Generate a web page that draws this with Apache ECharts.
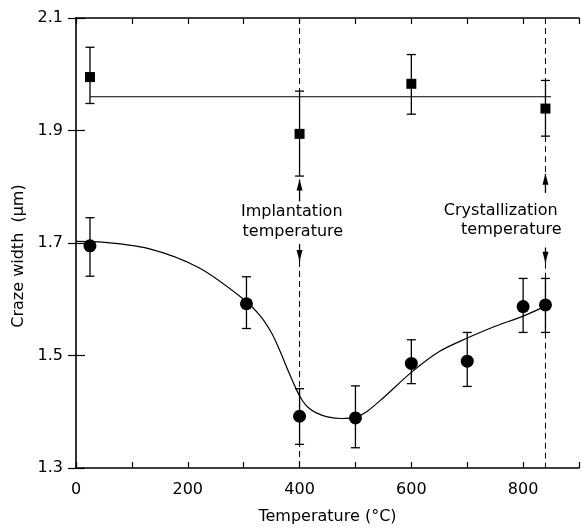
<!DOCTYPE html>
<html>
<head>
<meta charset="utf-8">
<script src="https://cdn.jsdelivr.net/npm/echarts@6/dist/echarts.min.js"></script>
<style>
  html, body { margin: 0; padding: 0; background: #fff; }
  #chart { width: 582px; height: 532px; }
</style>
</head>
<body>
<div id="chart"></div>
<script>
// Craze width versus temperature: implanted samples (squares) and unimplanted (circles)

// Squares: measured craze width with error limits
var sqTemp = [25, 400, 600, 840];
var sqWidth = [1.995, 1.894, 1.983, 1.939];
var sqLow = [1.948, 1.819, 1.929, 1.890];
var sqHigh = [2.048, 1.970, 2.035, 1.989];

// Mean level drawn through the squares
var sqMeanTemp = [25, 850];
var sqMeanWidth = [1.96, 1.96];

// Circles: measured craze width with error limits
var ciTemp = [25, 305, 400, 500, 600, 700, 800, 840];
var ciWidth = [1.695, 1.592, 1.392, 1.389, 1.486, 1.490, 1.587, 1.590];
var ciLow = [1.641, 1.548, 1.342, 1.336, 1.450, 1.445, 1.541, 1.541];
var ciHigh = [1.745, 1.640, 1.441, 1.446, 1.528, 1.541, 1.637, 1.637];

// Fitted curve through the circles
var fitTemp = [0, 40, 130, 220, 300, 330, 350, 365, 380, 395, 405, 415, 430, 450, 475, 500, 520, 550, 600, 650, 700, 750, 800, 845];
var fitWidth = [1.703, 1.702, 1.690, 1.656, 1.600, 1.570, 1.540, 1.508, 1.472, 1.438, 1.420, 1.408, 1.398, 1.391, 1.388, 1.390, 1.400, 1.425, 1.470, 1.507, 1.531, 1.552, 1.570, 1.590];

// Reference temperatures and the dashed segments drawn at them
var refTemp = [400, 840];
var dashFrom = [[2.1, 1.668], [2.1, 1.890, 1.665]];
var dashTo = [[1.970, 1.3], [1.989, 1.823, 1.3]];

// Arrows along the reference lines: [temperature, tail, tip]
var arrowTemp = [400, 400, 840, 840];
var arrowTail = [1.774, 1.698, 1.789, 1.692];
var arrowTip = [1.813, 1.668, 1.823, 1.665];

// Annotation text
var noteText = ['Implantation', 'temperature', 'Crystallization', 'temperature'];
var noteTemp = [386, 388, 760, 779];
var noteWidth = [1.755, 1.720, 1.757, 1.723];

// Axis tick labels
var xTickLabels = [0, 200, 400, 600, 800];
var yTickLabels = ['1.3', '1.5', '1.7', '1.9', '2.1'];

var FONT = 'DejaVu Sans';
var INK = '#000';

function zip(a, b) { return a.map(function (v, i) { return [v, b[i]]; }); }

var dashSeries = [];
refTemp.forEach(function (t, k) {
  dashFrom[k].forEach(function (y0, j) {
    dashSeries.push({
      type: 'line', xAxisIndex: 0, yAxisIndex: 0,
      data: [[t, y0], [t, dashTo[k][j]]],
      symbol: 'none', silent: true, z: 1,
      lineStyle: { color: INK, width: 1, type: [6, 4] }
    });
  });
});

function errorBars(temps, lows, highs) {
  return {
    type: 'custom', xAxisIndex: 0, yAxisIndex: 0, z: 3, silent: true,
    data: temps.map(function (t, i) { return [t, lows[i], highs[i]]; }),
    renderItem: function (params, api) {
      var lo = api.coord([api.value(0), api.value(1)]);
      var hi = api.coord([api.value(0), api.value(2)]);
      var cap = 4.5;
      var st = { stroke: INK, lineWidth: 1.3 };
      return {
        type: 'group',
        children: [
          { type: 'line', shape: { x1: lo[0], y1: lo[1], x2: hi[0], y2: hi[1] }, style: st },
          { type: 'line', shape: { x1: lo[0] - cap, y1: lo[1], x2: lo[0] + cap, y2: lo[1] }, style: st },
          { type: 'line', shape: { x1: hi[0] - cap, y1: hi[1], x2: hi[0] + cap, y2: hi[1] }, style: st }
        ]
      };
    }
  };
}

var arrowSeries = {
  type: 'custom', xAxisIndex: 0, yAxisIndex: 0, z: 3, silent: true,
  data: arrowTemp.map(function (t, i) { return [t, arrowTail[i], arrowTip[i]]; }),
  renderItem: function (params, api) {
    var a = api.coord([api.value(0), api.value(1)]);
    var b = api.coord([api.value(0), api.value(2)]);
    var dir = b[1] < a[1] ? 1 : -1; // 1: pointing up
    var head = 11, half = 3;
    return {
      type: 'group',
      children: [
        { type: 'line', shape: { x1: a[0], y1: a[1], x2: b[0], y2: b[1] }, style: { stroke: INK, lineWidth: 1.3 } },
        { type: 'polygon', shape: { points: [[b[0], b[1]], [b[0] - half, b[1] + dir * head], [b[0] + half, b[1] + dir * head]] }, style: { fill: INK } }
      ]
    };
  }
};

var option = {
  backgroundColor: '#fff',
  animation: false,
  grid: { left: 76, right: 0, top: 18, bottom: 64, containLabel: false },
  xAxis: [
    {
      type: 'value', min: 0, max: 900, interval: 100,
      name: 'Temperature (°C)', nameLocation: 'middle', nameGap: 41,
      nameTextStyle: { fontFamily: FONT, fontSize: 16, color: INK },
      axisLine: { lineStyle: { color: INK, width: 1.6 } },
      axisTick: { inside: true, length: 6, lineStyle: { color: INK, width: 1.2 } },
      axisLabel: {
        fontFamily: FONT, fontSize: 16, color: INK, margin: 14,
        formatter: function (v) { return xTickLabels.indexOf(v) >= 0 ? String(v) : ''; }
      },
      splitLine: { show: false }
    },
    {
      type: 'value', position: 'top', min: 0, max: 900, interval: 100,
      axisLine: { lineStyle: { color: INK, width: 1.6 } },
      axisTick: { inside: true, length: 6, lineStyle: { color: INK, width: 1.2 } },
      axisLabel: { show: false },
      splitLine: { show: false }
    }
  ],
  yAxis: [
    {
      type: 'value', min: 1.3, max: 2.1, interval: 0.2,
      name: 'Craze width  (μm)', nameLocation: 'middle', nameGap: 46,
      nameTextStyle: { fontFamily: FONT, fontSize: 16, color: INK, padding: [0, 26, 0, 0] },
      axisLine: { lineStyle: { color: INK, width: 1.6 } },
      axisTick: { inside: true, length: 9, lineStyle: { color: INK, width: 1.2 } },
      axisLabel: {
        fontFamily: FONT, fontSize: 16, color: INK, margin: 13,
        formatter: function (v) {
          var s = v.toFixed(1);
          return yTickLabels.indexOf(s) >= 0 ? s : '';
        }
      },
      splitLine: { show: false }
    },
    {
      type: 'value', position: 'right', min: 1.3, max: 2.1, interval: 0.2,
      axisLine: { show: false },
      axisTick: { show: true, inside: true, length: 8, lineStyle: { color: INK, width: 1.2 } },
      axisLabel: { show: false },
      splitLine: { show: false }
    }
  ],
  series: dashSeries.concat([
    {
      type: 'line', xAxisIndex: 0, yAxisIndex: 0, z: 2, silent: true,
      data: zip(sqMeanTemp, sqMeanWidth), symbol: 'none',
      lineStyle: { color: INK, width: 1.2 }
    },
    {
      type: 'line', xAxisIndex: 0, yAxisIndex: 0, z: 2, silent: true,
      data: zip(fitTemp, fitWidth), symbol: 'none', smooth: 0.3,
      lineStyle: { color: INK, width: 1.2 }
    },
    errorBars(sqTemp, sqLow, sqHigh),
    errorBars(ciTemp, ciLow, ciHigh),
    arrowSeries,
    {
      type: 'scatter', xAxisIndex: 0, yAxisIndex: 0, z: 4, silent: true,
      data: zip(sqTemp, sqWidth), symbol: 'rect', symbolSize: 10,
      itemStyle: { color: INK, opacity: 1 }
    },
    {
      type: 'scatter', xAxisIndex: 0, yAxisIndex: 0, z: 4, silent: true,
      data: zip(ciTemp, ciWidth), symbol: 'circle', symbolSize: 13,
      itemStyle: { color: INK, opacity: 1 }
    },
    {
      type: 'scatter', xAxisIndex: 0, yAxisIndex: 0, z: 5, silent: true,
      symbolSize: 0,
      itemStyle: { color: INK, opacity: 1 },
      data: noteText.map(function (s, i) { return { name: s, value: [noteTemp[i], noteWidth[i]] }; }),
      label: {
        show: true, position: 'inside', formatter: '{b}',
        fontFamily: FONT, fontSize: 16, color: INK, opacity: 1,
        textBorderWidth: 0,
        align: 'center', verticalAlign: 'middle'
      }
    }
  ])
};

var chart = echarts.init(document.getElementById('chart'), null, { renderer: 'canvas' });
chart.setOption(option);
</script>
</body>
</html>
